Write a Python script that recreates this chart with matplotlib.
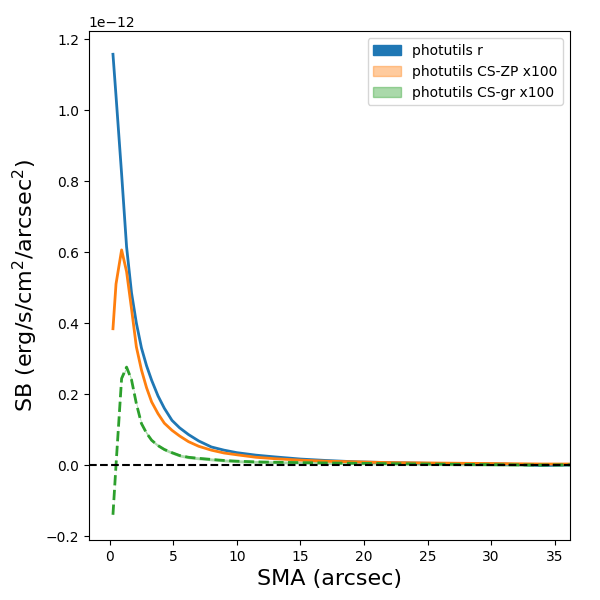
import matplotlib
matplotlib.use("Agg")
import matplotlib.pyplot as plt
from matplotlib.patches import Patch
import numpy as np

# semi-major axis (arcsec)
sma = [0.26, 0.5, 0.94, 1.33, 1.72, 2.1, 2.5, 2.9, 3.3, 3.8, 4.3, 4.9, 5.5,
       6.2, 7.0, 8.0, 9.0, 10.0, 11.5, 13.0, 15.0, 17.0, 19.5, 22.0, 25.0,
       28.0, 31.0, 34.0, 37.0]

# surface brightness, units of 1e-12 erg/s/cm2/arcsec2
sb_r = [1.157, 1.04, 0.82, 0.615, 0.485, 0.40, 0.33, 0.28, 0.239, 0.195,
        0.16, 0.126, 0.105, 0.086, 0.068, 0.051, 0.042, 0.035, 0.028, 0.023,
        0.017, 0.013, 0.009, 0.007, 0.005, 0.004, 0.003, -0.001, 0.001]
sb_cszp = [0.384, 0.51, 0.606, 0.545, 0.44, 0.333, 0.268, 0.218, 0.178, 0.145,
           0.118, 0.098, 0.082, 0.066, 0.053, 0.042, 0.034, 0.029, 0.022, 0.018,
           0.014, 0.011, 0.009, 0.007, 0.006, 0.005, 0.004, 0.003, 0.003]
sb_csgr = [-0.14, 0.0, 0.244, 0.276, 0.24, 0.173, 0.117, 0.09, 0.07, 0.055,
           0.044, 0.035, 0.027, 0.022, 0.019, 0.016, 0.013, 0.011, 0.009, 0.008,
           0.007, 0.006, 0.005, 0.004, 0.003, 0.002, 0.001, 0.0, 0.001]
err_csgr = [0.004] * len(sma)

scale = 1e-12
x = np.array(sma)
r = np.array(sb_r) * scale
zp = np.array(sb_cszp) * scale
gr = np.array(sb_csgr) * scale
egr = np.array(err_csgr) * scale

fig, ax = plt.subplots(figsize=(6, 6), dpi=100)
fig.subplots_adjust(left=0.148, right=0.95, top=0.948, bottom=0.1)

ax.plot(x, r, color="C0", lw=2)
ax.plot(x, zp, color="C1", lw=2)
ax.fill_between(x, gr - egr, gr + egr, color="C2", alpha=0.4, lw=0)
ax.plot(x, gr, color="C2", lw=2, ls="--")
ax.axhline(0, color="k", ls="--", lw=1.5)

ax.set_xlim(-1.64, 36.2)
ax.set_ylim(-0.211e-12, 1.222e-12)
ax.set_xlabel("SMA (arcsec)", fontsize=16)
ax.set_ylabel("SB (erg/s/cm$^2$/arcsec$^2$)", fontsize=16)

handles = [Patch(color="C0"),
           Patch(color="C1", alpha=0.4),
           Patch(color="C2", alpha=0.4)]
labels = ["photutils r", "photutils CS-ZP x100", "photutils CS-gr x100"]
ax.legend(handles, labels, loc="upper right")

fig.savefig("out.png")
